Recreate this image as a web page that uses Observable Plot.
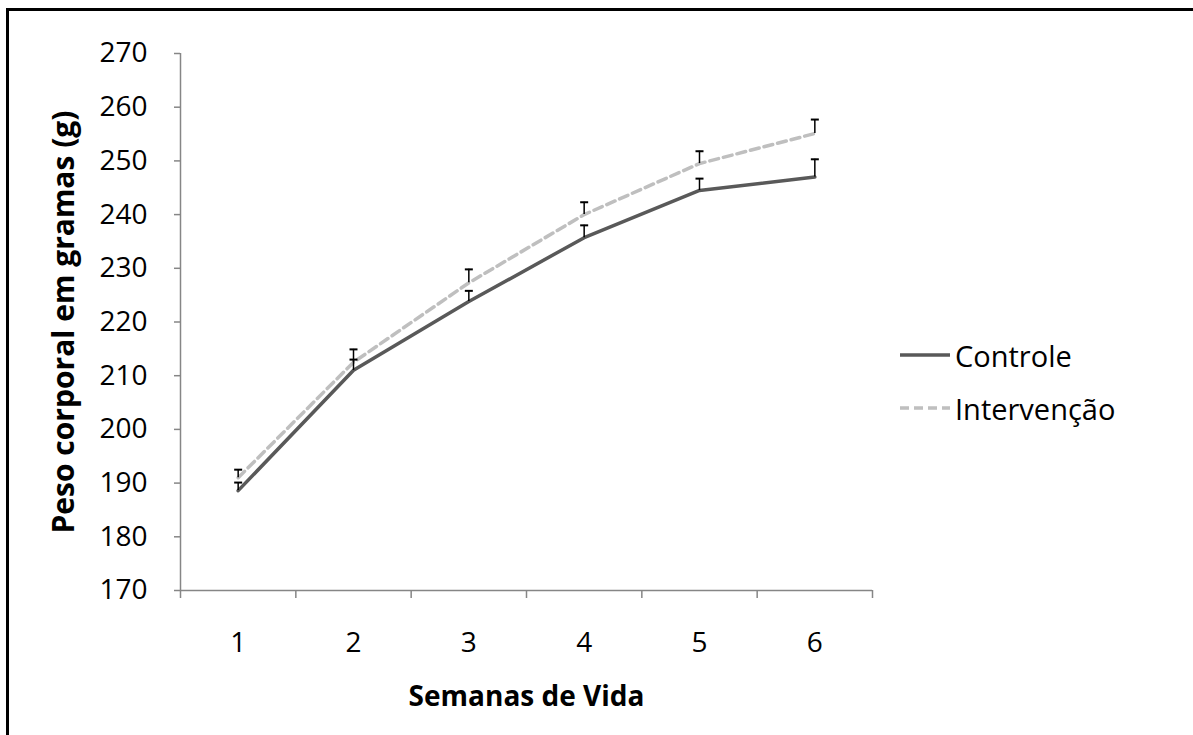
<!DOCTYPE html>
<html>
<head>
<meta charset="utf-8">
<script src="https://cdn.jsdelivr.net/npm/d3@7"></script>
<script src="https://cdn.jsdelivr.net/npm/@observablehq/plot@0.6"></script>
<style>
  body { margin: 0; overflow: hidden; background: #fff; font-family: "Open Sans", sans-serif; }
  #wrap { position: relative; width: 1193px; height: 735px; overflow: hidden; }
  #frame { position: absolute; left: 6px; top: 8px; width: 1400px; height: 1000px; border-left: 3px solid #000; border-top: 3px solid #000; box-sizing: border-box; pointer-events: none; }
  #chart { position: absolute; left: 0; top: 0; }
  #chart svg [aria-label="y-axis label"] { font-weight: bold; font-size: 30px; }
  #chart svg [aria-label="x-axis label"] { font-weight: bold; font-size: 28px; }
  .legend { position: absolute; left: 898px; display: flex; align-items: center; font-size: 29px; color: #000; }
  .legend svg { margin-right: 3px; }
</style>
</head>
<body>
<div id="wrap">
  <div id="chart"></div>
  <div id="frame"></div>
</div>
<script>
// ---- data ----
const weeks = [1, 2, 3, 4, 5, 6];
const controle = [188.6, 211.0, 223.8, 235.7, 244.5, 247.0];
const controleErr = [1.5, 2.0, 2.0, 2.3, 2.2, 3.3];
const intervencao = [191.0, 212.5, 227.3, 240.0, 249.5, 255.1];
const intervencaoErr = [1.5, 2.4, 2.5, 2.3, 2.3, 2.6];
const seriesNames = ["Controle", "Intervenção"];
const yTicks = [170, 180, 190, 200, 210, 220, 230, 240, 250, 260, 270];
const xBoundaries = [0.5, 1.5, 2.5, 3.5, 4.5, 5.5, 6.5];
const yTitle = "Peso corporal em gramas (g)";
const xTitle = "Semanas de Vida";

const colors = {"Controle": "#595959", "Intervenção": "#bfbfbf"};
const dashes = {"Controle": null, "Intervenção": "9,5"};

const rows = weeks.flatMap((w, i) => [
  {week: w, series: seriesNames[0], value: controle[i], err: controleErr[i]},
  {week: w, series: seriesNames[1], value: intervencao[i], err: intervencaoErr[i]}
]);

const capSymbol = {
  draw(context, size) {
    const r = Math.sqrt(size / Math.PI);
    context.moveTo(-r, 0);
    context.lineTo(r, 0);
  }
};

const seriesLines = seriesNames.map(s => Plot.line(rows.filter(d => d.series === s), {
  x: "week", y: "value", stroke: colors[s], strokeWidth: 3.5,
  strokeDasharray: dashes[s] || undefined
}));

const chart = Plot.plot({
  width: 1193,
  height: 735,
  marginLeft: 180,
  marginRight: 321,
  marginTop: 53,
  marginBottom: 145,
  x: {domain: [xBoundaries[0], xBoundaries[xBoundaries.length - 1]]},
  y: {domain: [yTicks[0], yTicks[yTicks.length - 1]]},
  style: {fontFamily: "'Open Sans', sans-serif", fontSize: "28px", color: "#000", background: "transparent", overflow: "visible"},
  marks: [
    Plot.axisY({ticks: yTicks, tickSize: 6, tickPadding: 27, stroke: "#868686", strokeWidth: 1.5, fill: "#000",
      label: yTitle, labelAnchor: "center", labelOffset: 128, labelArrow: "none"}),
    Plot.axisX({ticks: xBoundaries, tickSize: 8, tickFormat: () => "", stroke: "#868686", strokeWidth: 1.5, label: null}),
    Plot.axisX({ticks: weeks, tickSize: 0, tickPadding: 42, tickFormat: d => String(d), fill: "#000",
      label: xTitle, labelAnchor: "center", labelOffset: 115, labelArrow: "none"}),
    Plot.ruleX([xBoundaries[0]], {stroke: "#868686", strokeWidth: 1.5}),
    Plot.ruleY([yTicks[0]], {stroke: "#868686", strokeWidth: 1.5}),
    ...seriesLines,
    Plot.ruleX(rows, {x: "week", y1: "value", y2: d => d.value + d.err, stroke: "#000", strokeWidth: 1.5}),
    Plot.dot(rows, {x: "week", y: d => d.value + d.err, symbol: capSymbol, r: 4, stroke: "#000", strokeWidth: 2, fill: "none"})
  ]
});
document.getElementById("chart").appendChild(chart);

// legend
const legendY = [355, 408];
seriesNames.forEach((s, i) => {
  const div = document.createElement("div");
  div.className = "legend";
  div.style.top = (legendY[i] - 20) + "px";
  div.style.height = "40px";
  div.innerHTML = `<svg width="54" height="10"><line x1="2" x2="52" y1="5" y2="5" stroke="${colors[s]}" stroke-width="3.5" ${dashes[s] ? `stroke-dasharray="${dashes[s]}"` : ""}/></svg><span>${s}</span>`;
  document.getElementById("wrap").appendChild(div);
});
</script>
</body>
</html>
